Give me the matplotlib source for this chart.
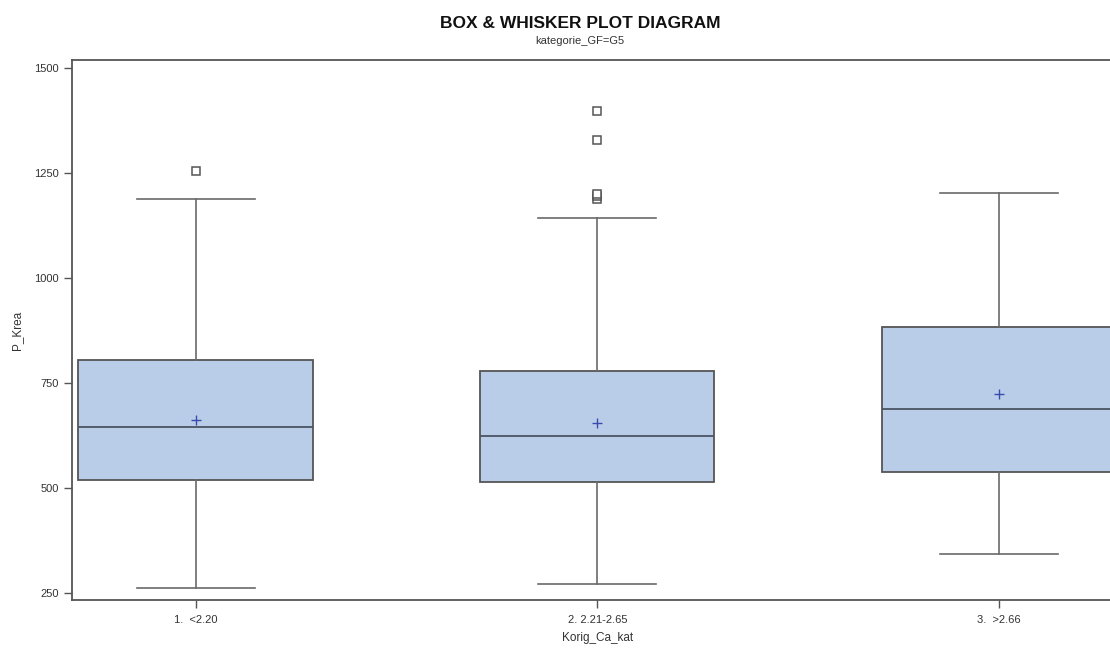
import matplotlib
matplotlib.use("Agg")
import matplotlib.pyplot as plt

plt.rcParams['font.family'] = ['Liberation Sans', 'DejaVu Sans']

categories = ["1.  <2.20", "2. 2.21-2.65", "3.  >2.66"]
whislo = [263, 273, 344]
q1 = [520, 516, 540]
med = [647, 625, 690]
q3 = [805, 780, 885]
whishi = [1188, 1143, 1204]
means = [663, 656, 724]
fliers = [[1255], [1190, 1196, 1202, 1329, 1399], []]

stats = []
for i, lab in enumerate(categories):
    stats.append(dict(label=lab, whislo=whislo[i], q1=q1[i], med=med[i],
                      q3=q3[i], whishi=whishi[i], mean=means[i],
                      fliers=fliers[i]))

fig = plt.figure(figsize=(11.1, 6.49), dpi=100)
ax = fig.add_axes([0.0651, 0.0755, 0.946, 0.832])

edge = '#555555'
ax.bxp(stats, positions=[1, 2, 3], widths=0.583, capwidths=0.294,
       showmeans=True, patch_artist=True,
       boxprops=dict(facecolor='#b9cde9', edgecolor=edge, linewidth=1.3),
       medianprops=dict(color='#4a5563', linewidth=1.3),
       whiskerprops=dict(color='#6a6a6a', linewidth=1.2),
       capprops=dict(color='#6a6a6a', linewidth=1.2),
       meanprops=dict(marker='+', markeredgecolor='#3a4bb0', markersize=7,
                      markeredgewidth=1.0),
       flierprops=dict(marker='s', markerfacecolor='white',
                       markeredgecolor='#555555', markersize=5.5,
                       markeredgewidth=1.1))

ax.set_xlim(0.693, 3.307)
ax.set_ylim(234, 1520)
ax.set_yticks([250, 500, 750, 1000, 1250, 1500])

for s in ax.spines.values():
    s.set_color('#555555')
    s.set_linewidth(1.3)

ax.tick_params(axis='both', colors='#555555', labelcolor='#333333',
               labelsize=8, length=6, width=1.0)
ax.tick_params(axis='x', pad=5)

ax.set_ylabel("P_Krea", fontsize=8.5, color='#333333', labelpad=8)
ax.set_xlabel("Korig_Ca_kat", fontsize=8.5, color='#333333', labelpad=5)

# titles centred over the full plot frame, which runs past the right edge
fig.text(580 / 1110, 1 - 23 / 649, "BOX & WHISKER PLOT DIAGRAM", ha='center',
         va='center', fontsize=12.5, fontweight='bold', color='#111111')
fig.text(580 / 1110, 1 - 41 / 649, "kategorie_GF=G5", ha='center', va='center',
         fontsize=8, color='#333333')

fig.savefig("out.png", dpi=100)
